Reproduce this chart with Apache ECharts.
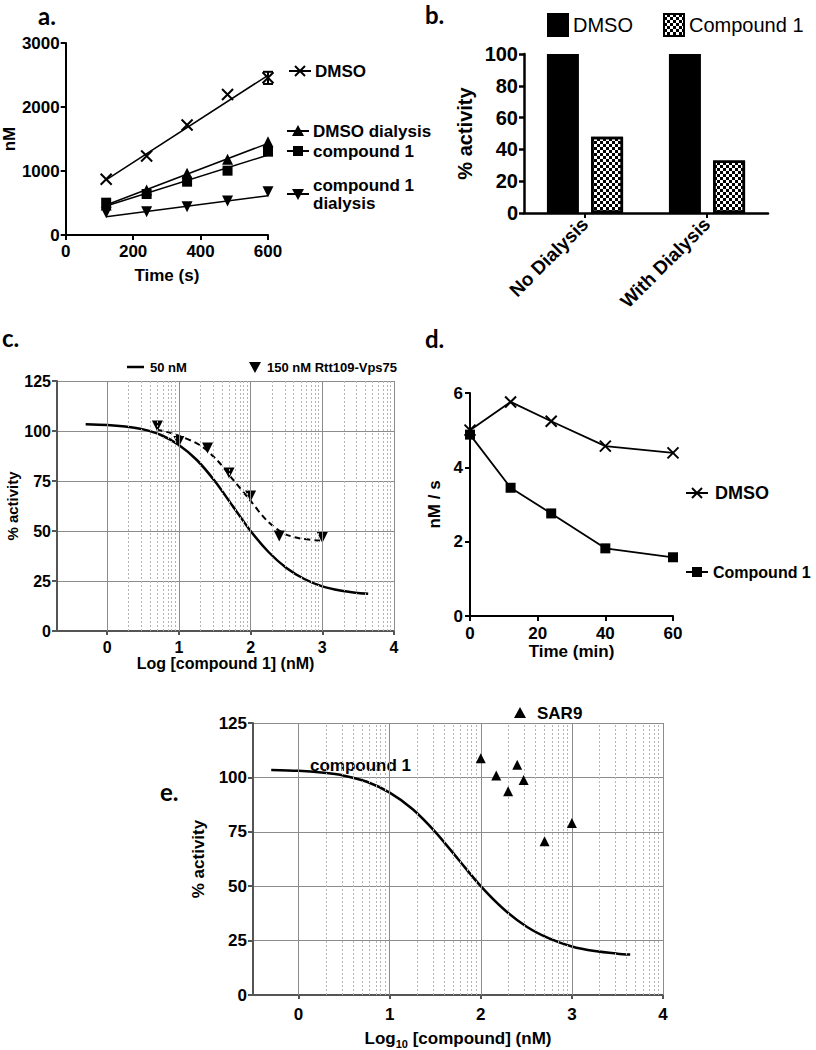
<!DOCTYPE html>
<html lang="en">
<head>
<meta charset="UTF-8">
<title>Compound 1 activity panels</title>
<script src="https://cdn.jsdelivr.net/npm/echarts@6/dist/echarts.min.js"></script>
<style>
  html, body { margin: 0; padding: 0; background: #fff; }
  #chart { width: 816px; height: 1050px; }
</style>
</head>
<body>
<div id="chart"></div>
<script>
// ---- panel a: product (nM) vs time (s) ----
var timeA = [120, 240, 360, 480, 600];
var dmsoA = [870, 1234, 1718, 2195, 2458];
var dmsoDialA = [470, 703, 964, 1182, 1458];
var cmpdA = [505, 641, 833, 1005, 1302];
var cmpdDialA = [349, 365, 443, 531, 677];
// fitted lines (end points)
var fitTimeA = [120, 600];
var dmsoFitA = [861, 2496];
var dmsoDialFitA = [469, 1432];
var cmpdFitA = [453, 1250];
var cmpdDialFitA = [286, 615];
// error bar on the last DMSO point: [x, low, high]
var dmsoErrA = [[600, 2360, 2550]];

// ---- panel b: % activity ----
var barCats = ['No Dialysis', 'With Dialysis'];
var barDmso = [100, 100];
var barCmpd = [48, 33];

// ---- panel c / e: dose response, x = log10 [compound] (nM) ----
var logTicks = [0, 1, 2, 3, 4];
var minorMults = [2, 3, 4, 5, 6, 7, 8, 9];
var curveLog = [-0.3, 0, 0.25, 0.5, 0.75, 1.0, 1.25, 1.5, 1.75, 2.0, 2.25, 2.5, 2.75, 3.0, 3.25, 3.5, 3.64];
var curveCmpd1 = [103.4, 103.0, 102.2, 100.8, 98.0, 93.0, 85.5, 75.0, 62.5, 50.0, 39.5, 31.5, 26.0, 22.3, 20.2, 19.0, 18.6];
var pts150Log = [0.7, 1.0, 1.4, 1.7, 2.0, 2.4, 3.0];
var pts150 = [102.5, 94.8, 91.5, 79.0, 67.5, 47.5, 46.8];
var fit150Log = [0.69, 0.97, 1.29, 1.53, 1.76, 1.99, 2.22, 2.46, 2.69, 2.97];
var fit150 = [100.8, 98.0, 93.0, 85.5, 75.5, 65.5, 55.5, 48.8, 46.3, 45.2];
var sarLog = [2.0, 2.17, 2.30, 2.40, 2.47, 2.70, 3.0];
var sar9 = [108.8, 100.9, 93.6, 105.8, 98.8, 70.7, 79.0];

// ---- panel d: rate (nM/s) vs preincubation time (min) ----
var timeD = [0, 12, 24, 40, 60];
var dmsoD = [5.0, 5.76, 5.24, 4.57, 4.39];
var cmpdD = [4.88, 3.45, 2.76, 1.82, 1.58];

var F = 'Liberation Sans, Arial, sans-serif';
var crossPath = 'path://M0,0L10,10M10,0L0,10';

function pairs(xs, ys) {
    return xs.map(function (x, i) { return [x, ys[i]]; });
}
function plain(v) { return String(v); }

function axis(o) {
    var col = o.color || '#000';
    var w = o.width || 2;
    return Object.assign({
        type: 'value',
        axisLine: { show: true, onZero: false, lineStyle: { color: col, width: w } },
        axisTick: { show: true, length: 5, lineStyle: { color: col, width: w } },
        splitLine: { show: false },
        axisLabel: { color: '#000', fontFamily: F, fontWeight: 'bold', fontSize: o.fs || 17, margin: o.margin || 8, formatter: plain },
        nameLocation: 'middle',
        nameTextStyle: { color: '#000', fontFamily: F, fontWeight: 'bold', fontSize: o.nfs || 17 }
    }, o.extra);
}

// vertical grid lines for the log axes (decades solid, minor dashed)
function logGrid() {
    var out = [];
    logTicks.forEach(function (t) {
        out.push({ xAxis: t, lineStyle: { type: 'solid', color: '#8c8c8c', width: 1 } });
    });
    for (var n = 0; n < 4; n++) {
        minorMults.forEach(function (m) {
            out.push({ xAxis: n + Math.log10(m), lineStyle: { type: [2, 2], color: '#b4b4b4', width: 1 } });
        });
    }
    return out;
}

var myChart = echarts.init(document.getElementById('chart'), null, { renderer: 'svg' });

// legend helpers (marker + short line + label), drawn as graphics
function mark(kind, x, y, withLine) {
    var els = [];
    var st = { stroke: '#000', lineWidth: 2 };
    if (withLine) els.push({ type: 'line', shape: { x1: x - 11, y1: y, x2: x + 11, y2: y }, style: st });
    if (kind === 'x') {
        els.push({ type: 'line', shape: { x1: x - 5, y1: y - 5, x2: x + 5, y2: y + 5 }, style: st });
        els.push({ type: 'line', shape: { x1: x + 5, y1: y - 5, x2: x - 5, y2: y + 5 }, style: st });
    } else if (kind === 'tri') {
        els.push({ type: 'polygon', shape: { points: [[x, y - 6], [x + 6, y + 5], [x - 6, y + 5]] }, style: { fill: '#000' } });
    } else if (kind === 'tridown') {
        els.push({ type: 'polygon', shape: { points: [[x, y + 6], [x + 6, y - 5], [x - 6, y - 5]] }, style: { fill: '#000' } });
    } else if (kind === 'sq') {
        els.push({ type: 'rect', shape: { x: x - 5, y: y - 5, width: 10, height: 10 }, style: { fill: '#000' } });
    }
    return els;
}
function txt(s, x, y, size, family) {
    return {
        type: 'text', x: x, y: y,
        style: {
            text: s, fill: '#000', fontSize: size, fontWeight: 'bold', fontFamily: family || F,
            textAlign: 'left', textVerticalAlign: 'middle'
        }
    };
}

var LF = 'Lato, Open Sans, sans-serif';
var graphics = [].concat(
    // panel letters
    txt('a.', 38, 15, 24, LF), txt('b.', 425, 14, 24, LF), txt('c.', 2, 337, 24, LF),
    txt('d.', 425, 338, 24, LF), txt('e.', 160, 791, 24, LF),
    // panel a legend
    mark('x', 300, 71, true), txt('DMSO', 315, 71, 17),
    mark('tri', 298, 131, true), txt('DMSO dialysis', 313, 131, 17),
    mark('sq', 298, 151, true), txt('compound 1', 313, 151, 17),
    mark('tridown', 298, 194, true), txt('compound 1', 313, 185, 17), txt('dialysis', 313, 203, 17),
    // panel c legend
    [{ type: 'line', shape: { x1: 127, y1: 367, x2: 144, y2: 367 }, style: { stroke: '#000', lineWidth: 2.5 } }],
    txt('50 nM', 150, 367, 13), mark('tridown', 255, 367, false), txt('150 nM Rtt109-Vps75', 267, 367, 13),
    // panel d legend
    mark('x', 697, 493, true), txt('DMSO', 715, 493, 18),
    mark('sq', 697, 572, true), txt('Compound 1', 713, 572, 16),
    // panel e legend / label
    mark('tri', 520, 713, false), txt('SAR9', 537, 713, 17),
    txt('compound 1', 310, 765, 17)
);

var option = {
    animation: false,
    backgroundColor: '#fff',
    textStyle: { fontFamily: F },
    graphic: graphics,
    legend: {
        data: ['DMSO', 'Compound 1'],
        left: 542, top: 8,
        itemWidth: 20, itemHeight: 22, itemGap: 30,
        icon: 'rect',
        textStyle: { fontSize: 20, fontFamily: F, color: '#000' },
        selectedMode: false
    },
    grid: [
        { left: 62, top: 43, width: 206, height: 192 },   // a
        { left: 524, top: 54, width: 244, height: 159 },  // b
        { left: 57, top: 381, width: 337, height: 250 },  // c
        { left: 470, top: 393, width: 203, height: 223 }, // d
        { left: 253, top: 723, width: 410, height: 274 }  // e
    ],
    xAxis: [
        axis({ extra: { gridIndex: 0, min: 0, max: 600, interval: 200, name: 'Time (s)', nameGap: 32 } }),
        axis({ width: 2.5, fs: 20, extra: {
            gridIndex: 1, type: 'category', data: barCats,
            axisTick: { show: true, alignWithLabel: true, length: 5, lineStyle: { color: '#000', width: 2 } },
            axisLabel: { rotate: 45, color: '#000', fontFamily: F, fontWeight: 'bold', fontSize: 19, margin: 8 }
        } }),
        axis({ color: '#555', fs: 16, margin: 8, extra: {
            gridIndex: 2, min: -0.7, max: 4,
            axisLabel: { customValues: logTicks, color: '#000', fontFamily: F, fontWeight: 'bold', fontSize: 16, margin: 8, formatter: plain },
            axisTick: { show: true, customValues: logTicks, length: 4, lineStyle: { color: '#555', width: 2 } },
            name: 'Log [compound 1] (nM)', nameGap: 24,
            nameTextStyle: { color: '#000', fontFamily: F, fontWeight: 'bold', fontSize: 16 }
        } }),
        axis({ margin: 9, extra: { gridIndex: 3, min: 0, max: 60, interval: 20, name: 'Time (min)', nameGap: 27 } }),
        axis({ color: '#555', margin: 11, extra: {
            gridIndex: 4, min: -0.5, max: 4,
            axisLabel: { customValues: logTicks, color: '#000', fontFamily: F, fontWeight: 'bold', fontSize: 17, margin: 11, formatter: plain },
            axisTick: { show: true, customValues: logTicks, length: 4, lineStyle: { color: '#555', width: 2 } },
            name: '{b|Log}{s|10}{b| [compound] (nM)}', nameGap: 33,
            nameTextStyle: { rich: {
                b: { fontFamily: F, fontWeight: 'bold', fontSize: 17, color: '#000' },
                s: { fontFamily: F, fontWeight: 'bold', fontSize: 11, color: '#000', padding: [10, 0, 0, 0] }
            } }
        } })
    ],
    yAxis: [
        axis({ margin: 6, extra: { gridIndex: 0, min: 0, max: 3000, interval: 1000, name: 'nM', nameGap: 44 } }),
        axis({ width: 2.5, fs: 20, margin: 6, nfs: 20, extra: { gridIndex: 1, min: 0, max: 100, interval: 20, name: '% activity', nameGap: 49 } }),
        axis({ color: '#555', fs: 16, margin: 6, nfs: 15, extra: {
            gridIndex: 2, min: 0, max: 125, interval: 25, name: '% activity', nameGap: 32,
            splitLine: { show: true, lineStyle: { color: '#8c8c8c', width: 1 } }
        } }),
        axis({ margin: 7, extra: { gridIndex: 3, min: 0, max: 6, interval: 2, name: 'nM / s', nameGap: 27 } }),
        axis({ color: '#555', margin: 6, extra: {
            gridIndex: 4, min: 0, max: 125, interval: 25, name: '% activity', nameGap: 46,
            splitLine: { show: true, lineStyle: { color: '#8c8c8c', width: 1 } }
        } })
    ],
    series: [
        // ----- a -----
        { name: 'a DMSO fit', type: 'line', xAxisIndex: 0, yAxisIndex: 0, data: pairs(fitTimeA, dmsoFitA), symbol: 'none', lineStyle: { color: '#000', width: 1.5 } },
        { name: 'a DMSO dialysis fit', type: 'line', xAxisIndex: 0, yAxisIndex: 0, data: pairs(fitTimeA, dmsoDialFitA), symbol: 'none', lineStyle: { color: '#000', width: 1.5 } },
        { name: 'a cmpd fit', type: 'line', xAxisIndex: 0, yAxisIndex: 0, data: pairs(fitTimeA, cmpdFitA), symbol: 'none', lineStyle: { color: '#000', width: 1.5 } },
        { name: 'a cmpd dialysis fit', type: 'line', xAxisIndex: 0, yAxisIndex: 0, data: pairs(fitTimeA, cmpdDialFitA), symbol: 'none', lineStyle: { color: '#000', width: 1.5 } },
        { name: 'a DMSO', type: 'scatter', xAxisIndex: 0, yAxisIndex: 0, data: pairs(timeA, dmsoA), symbol: crossPath, symbolSize: 11,
          itemStyle: { color: 'none', borderColor: '#000', borderWidth: 2, opacity: 1 } },
        { name: 'a DMSO dialysis', type: 'scatter', xAxisIndex: 0, yAxisIndex: 0, data: pairs(timeA, dmsoDialA), symbol: 'triangle', symbolSize: 11, itemStyle: { color: '#000', opacity: 1 } },
        { name: 'a cmpd', type: 'scatter', xAxisIndex: 0, yAxisIndex: 0, data: pairs(timeA, cmpdA), symbol: 'rect', symbolSize: 10, itemStyle: { color: '#000', opacity: 1 } },
        { name: 'a cmpd dialysis', type: 'scatter', xAxisIndex: 0, yAxisIndex: 0, data: pairs(timeA, cmpdDialA), symbol: 'triangle', symbolRotate: 180, symbolSize: 11, itemStyle: { color: '#000', opacity: 1 } },
        { name: 'a err', type: 'custom', xAxisIndex: 0, yAxisIndex: 0, data: dmsoErrA, encode: { x: 0, y: [1, 2] },
          renderItem: function (params, api) {
              var x = api.value(0);
              var lo = api.coord([x, api.value(1)]);
              var hi = api.coord([x, api.value(2)]);
              var st = { stroke: '#000', lineWidth: 2 };
              return { type: 'group', children: [
                  { type: 'line', shape: { x1: lo[0], y1: lo[1], x2: hi[0], y2: hi[1] }, style: st },
                  { type: 'line', shape: { x1: lo[0] - 5, y1: lo[1], x2: lo[0] + 5, y2: lo[1] }, style: st },
                  { type: 'line', shape: { x1: hi[0] - 5, y1: hi[1], x2: hi[0] + 5, y2: hi[1] }, style: st }
              ] };
          } },
        // ----- b -----
        { name: 'DMSO', type: 'bar', xAxisIndex: 1, yAxisIndex: 1, data: barDmso, barWidth: 32, barGap: '38%',
          itemStyle: { color: '#000', borderColor: '#000', borderWidth: 2 } },
        { name: 'Compound 1', type: 'bar', xAxisIndex: 1, yAxisIndex: 1, data: barCmpd, barWidth: 32,
          itemStyle: { color: '#fff', borderColor: '#000', borderWidth: 2.5,
              decal: { symbol: 'rect', symbolSize: 1, color: '#000', backgroundColor: '#fff',
                       dashArrayX: [[3, 3], [0, 3, 3, 0]], dashArrayY: [3, 0] } } },
        // ----- c -----
        { name: 'c grid', type: 'line', xAxisIndex: 2, yAxisIndex: 2, data: [], z: 1,
          markLine: { silent: true, symbol: ['none', 'none'], label: { show: false }, data: logGrid() } },
        { name: 'c 50 nM', type: 'line', xAxisIndex: 2, yAxisIndex: 2, data: pairs(curveLog, curveCmpd1), smooth: 0.3, symbol: 'none',
          lineStyle: { color: '#000', width: 2.5 } },
        { name: 'c 150 nM fit', type: 'line', xAxisIndex: 2, yAxisIndex: 2, data: pairs(fit150Log, fit150), smooth: 0.3, symbol: 'none',
          lineStyle: { color: '#000', width: 2, type: [6, 4] } },
        { name: 'c 150 nM', type: 'scatter', xAxisIndex: 2, yAxisIndex: 2, data: pairs(pts150Log, pts150), symbol: 'triangle', symbolRotate: 180, symbolSize: 11,
          itemStyle: { color: '#000', opacity: 1 } },
        // ----- d -----
        { name: 'd DMSO', type: 'line', xAxisIndex: 3, yAxisIndex: 3, data: pairs(timeD, dmsoD), symbol: crossPath, symbolSize: 11,
          lineStyle: { color: '#000', width: 1.8 }, itemStyle: { color: 'none', borderColor: '#000', borderWidth: 2 } },
        { name: 'd Compound 1', type: 'line', xAxisIndex: 3, yAxisIndex: 3, data: pairs(timeD, cmpdD), symbol: 'rect', symbolSize: 10,
          lineStyle: { color: '#000', width: 1.8 }, itemStyle: { color: '#000' } },
        // ----- e -----
        { name: 'e grid', type: 'line', xAxisIndex: 4, yAxisIndex: 4, data: [], z: 1,
          markLine: { silent: true, symbol: ['none', 'none'], label: { show: false }, data: logGrid() } },
        { name: 'e compound 1', type: 'line', xAxisIndex: 4, yAxisIndex: 4, data: pairs(curveLog, curveCmpd1), smooth: 0.3, symbol: 'none',
          lineStyle: { color: '#000', width: 2.5 } },
        { name: 'e SAR9', type: 'scatter', xAxisIndex: 4, yAxisIndex: 4, data: pairs(sarLog, sar9), symbol: 'triangle', symbolSize: 10, z: 5,
          itemStyle: { color: '#000', opacity: 1 } }
    ]
};

option && myChart.setOption(option);
</script>
</body>
</html>
